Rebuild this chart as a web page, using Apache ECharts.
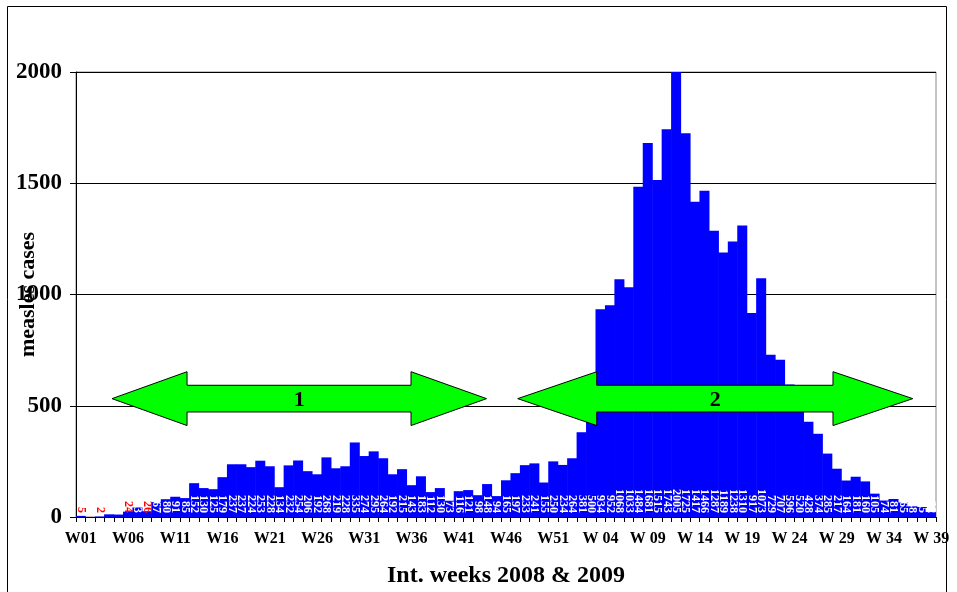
<!DOCTYPE html>
<html><head><meta charset="utf-8">
<script src="https://cdn.jsdelivr.net/npm/echarts@6/dist/echarts.min.js"></script>
<style>html,body{margin:0;padding:0;background:#fff}#c{width:957px;height:592px}</style>
</head><body><div id="c"></div>
<script>
const weeks2008 = ["W01","W02","W03","W04","W05","W06","W07","W08","W09","W10","W11","W12","W13","W14","W15","W16","W17","W18","W19","W20","W21","W22","W23","W24","W25","W26","W27","W28","W29","W30","W31","W32","W33","W34","W35","W36","W37","W38","W39","W40","W41","W42","W43","W44","W45","W46","W47","W48","W49","W50","W51","W52"];
const weeks2009 = ["W 01","W 02","W 03","W 04","W 05","W 06","W 07","W 08","W 09","W 10","W 11","W 12","W 13","W 14","W 15","W 16","W 17","W 18","W 19","W 20","W 21","W 22","W 23","W 24","W 25","W 26","W 27","W 28","W 29","W 30","W 31","W 32","W 33","W 34","W 35","W 36","W 37","W 38","W 39"];
const cases2008 = [5,0,2,12,11,24,43,26,67,80,91,85,152,130,125,179,237,237,224,253,228,134,232,254,206,192,268,219,228,335,274,295,264,192,215,143,183,112,130,73,116,121,98,148,94,165,197,233,241,155,250,234];
const cases2009 = [264,381,500,934,952,1068,1033,1484,1681,1515,1743,2005,1725,1417,1466,1287,1189,1238,1310,917,1073,729,707,596,520,428,374,285,217,164,181,160,105,74,81,65,48,45,22];
const redLabelIdx = [0,2,5,7];
const yMin = 0, yMax = 2000, yStep = 500;
const periodLabels = ["1","2"];

const categories = weeks2008.concat(weeks2009);
const values = cases2008.concat(cases2009);

// annotation geometry (category-index positions and value-axis positions)
const arrowDefs = [
  {tipL: 3.31, baseL: 11.25, baseR: 34.95, tipR: 42.94},
  {tipL: 46.24, baseL: 54.6, baseR: 79.6, tipR: 88.04}
];
const arrowCenterVal = 532, arrowShaftHalf = 60, arrowHeadHalf = 121;

const serif = 'Liberation Serif';
const chart = echarts.init(document.getElementById('c'), null, {renderer: 'canvas'});

const barData = values.map((v, i) => {
  const item = {value: v};
  if (redLabelIdx.indexOf(i) >= 0) item.label = {color: '#ff0000'};
  return item;
});

chart.setOption({
  backgroundColor: '#fff',
  animation: false,
  grid: {left: 76, right: 21, top: 72, bottom: 75, containLabel: false, outerBoundsMode: 'none',
         show: true, borderColor: '#888', borderWidth: 1, backgroundColor: 'transparent'},
  xAxis: {
    type: 'category', data: categories, boundaryGap: true,
    name: 'Int. weeks 2008 & 2009', nameLocation: 'middle', nameGap: 47, nameMoveOverlap: false,
    nameTextStyle: {fontFamily: serif, fontWeight: 'bold', fontSize: 24, color: '#000'},
    axisLine: {show: true, lineStyle: {color: '#000', width: 1}},
    axisTick: {show: true, interval: 0, length: 5, lineStyle: {color: '#000'}},
    axisLabel: {interval: 4, margin: 14, fontFamily: serif, fontWeight: 'bold', fontSize: 16, color: '#000'},
    splitLine: {show: false}
  },
  yAxis: {
    type: 'value', min: yMin, max: yMax, interval: yStep,
    name: 'measles cases', nameLocation: 'middle', nameGap: 37, nameMoveOverlap: false,
    nameTextStyle: {fontFamily: serif, fontWeight: 'bold', fontSize: 22, color: '#000'},
    axisLine: {show: true, lineStyle: {color: '#000', width: 1}},
    axisTick: {show: true, length: 6, lineStyle: {color: '#000'}},
    axisLabel: {margin: 14, fontFamily: serif, fontWeight: 'bold', fontSize: 23, color: '#000',
                formatter: v => String(v)},
    splitLine: {show: true, lineStyle: {color: '#000', width: 1}}
  },
  series: [{
    type: 'bar', data: barData, barWidth: '106%', barGap: '-100%',
    itemStyle: {color: '#0000ff'},
    label: {
      show: true, position: 'insideBottom', rotate: -90, align: 'right', verticalAlign: 'middle',
      distance: 4, color: '#fff', fontFamily: serif, fontWeight: 'bold', fontSize: 12,
      formatter: p => (p.value ? String(p.value) : '')
    }
  }]
});

function drawAnnotations() {
  const x0 = chart.convertToPixel({xAxisIndex: 0}, 0);
  const x1 = chart.convertToPixel({xAxisIndex: 0}, 1);
  const step = x1 - x0;
  const px = pos => x0 + pos * step;
  const yc = chart.convertToPixel({yAxisIndex: 0}, arrowCenterVal);
  const sh = yc - chart.convertToPixel({yAxisIndex: 0}, arrowCenterVal + arrowShaftHalf);
  const hh = yc - chart.convertToPixel({yAxisIndex: 0}, arrowCenterVal + arrowHeadHalf);
  const elements = [];
  arrowDefs.forEach((a, k) => {
    const tL = px(a.tipL), bL = px(a.baseL), bR = px(a.baseR), tR = px(a.tipR);
    elements.push({
      type: 'polygon', z: 100,
      shape: {points: [[tL, yc], [bL, yc - hh], [bL, yc - sh], [bR, yc - sh], [bR, yc - hh], [tR, yc],
                       [bR, yc + hh], [bR, yc + sh], [bL, yc + sh], [bL, yc + hh]]},
      style: {fill: '#00ff00', stroke: '#000', lineWidth: 1}
    });
    elements.push({
      type: 'text', z: 101, x: (tL + tR) / 2, y: yc + 2,
      style: {text: periodLabels[k], font: 'bold 22px "Liberation Serif"', fill: '#000', textAlign: 'center', textVerticalAlign: 'middle'}
    });
  });
  elements.push({
    type: 'rect', z: 102, silent: true,
    shape: {x: 7.5, y: 6.5, width: 939, height: 600},
    style: {fill: 'none', stroke: '#000', lineWidth: 1}
  });
  chart.setOption({graphic: {elements: elements}});
}
drawAnnotations();
</script>
</body></html>
